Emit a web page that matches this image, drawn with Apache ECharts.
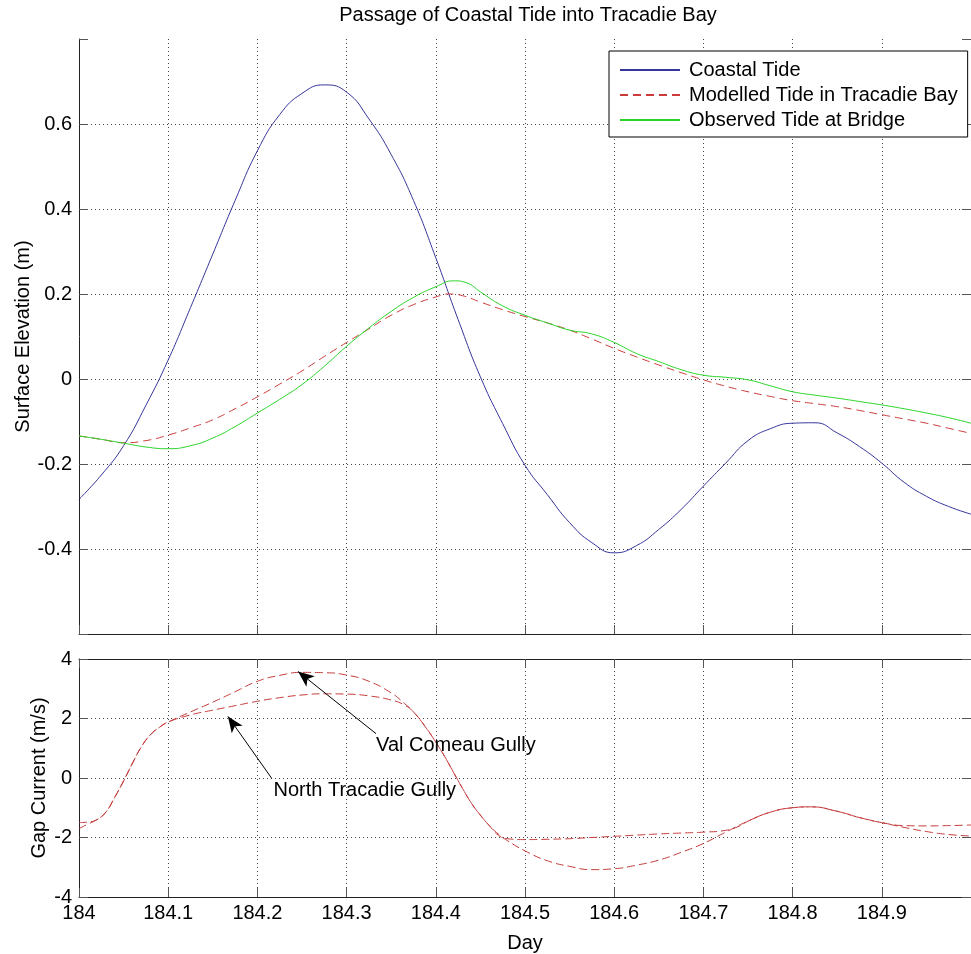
<!DOCTYPE html>
<html>
<head>
<meta charset="utf-8">
<script src="https://cdn.jsdelivr.net/npm/echarts@6/dist/echarts.min.js"></script>
<style>html,body{margin:0;padding:0;background:#fff}#c{width:971px;height:954px}</style>
</head>
<body>
<div id="c"></div>
<script>
// ---- data ----
const titleText = 'Passage of Coastal Tide into Tracadie Bay';
const seriesNames = ['Coastal Tide', 'Modelled Tide in Tracadie Bay', 'Observed Tide at Bridge'];
const gullyNames = ['Val Comeau Gully', 'North Tracadie Gully'];

const coastalDay = [184.000,184.025,184.050,184.075,184.100,184.125,184.150,184.175,184.200,184.225,184.250,184.275,184.300,184.325,184.350,184.375,184.400,184.425,184.450,184.475,184.500,184.525,184.550,184.575,184.600,184.625,184.650,184.675,184.700,184.725,184.750,184.775,184.800,184.825,184.850,184.875,184.900,184.925,184.950,184.975,185.000];
const coastalElev = [-0.283,-0.226,-0.157,-0.062,0.045,0.168,0.294,0.420,0.537,0.622,0.672,0.692,0.675,0.612,0.528,0.420,0.285,0.140,0.005,-0.105,-0.203,-0.272,-0.338,-0.385,-0.409,-0.392,-0.354,-0.307,-0.252,-0.198,-0.145,-0.117,-0.104,-0.103,-0.127,-0.159,-0.198,-0.243,-0.276,-0.300,-0.318];

const modelDay = [184.000,184.025,184.050,184.075,184.100,184.125,184.150,184.175,184.200,184.225,184.250,184.275,184.300,184.325,184.350,184.375,184.400,184.415,184.430,184.450,184.475,184.500,184.525,184.550,184.575,184.600,184.625,184.650,184.675,184.700,184.725,184.750,184.775,184.800,184.825,184.850,184.875,184.900,184.925,184.950,184.975,185.000];
const modelElev = [-0.134,-0.142,-0.150,-0.145,-0.132,-0.115,-0.096,-0.070,-0.042,-0.012,0.019,0.053,0.086,0.118,0.150,0.175,0.193,0.200,0.196,0.181,0.163,0.147,0.132,0.115,0.094,0.072,0.052,0.033,0.015,-0.002,-0.017,-0.030,-0.041,-0.051,-0.058,-0.065,-0.074,-0.084,-0.094,-0.104,-0.116,-0.128];

const obsDay = [184.000,184.025,184.050,184.075,184.100,184.125,184.150,184.175,184.200,184.225,184.250,184.275,184.300,184.325,184.350,184.375,184.400,184.420,184.435,184.450,184.475,184.500,184.525,184.550,184.575,184.600,184.625,184.650,184.675,184.700,184.725,184.750,184.775,184.800,184.825,184.850,184.875,184.900,184.925,184.950,184.975,185.000];
const obsElev = [-0.134,-0.142,-0.151,-0.160,-0.164,-0.157,-0.139,-0.112,-0.080,-0.048,-0.013,0.030,0.077,0.120,0.159,0.192,0.217,0.231,0.226,0.205,0.172,0.150,0.132,0.115,0.106,0.086,0.060,0.041,0.022,0.009,0.004,-0.002,-0.016,-0.030,-0.038,-0.045,-0.053,-0.061,-0.070,-0.080,-0.091,-0.104];

const vcDay = [184.000,184.010,184.020,184.030,184.040,184.050,184.060,184.070,184.080,184.090,184.100,184.125,184.150,184.175,184.200,184.225,184.250,184.275,184.300,184.325,184.350,184.365,184.375,184.390,184.400,184.410,184.420,184.430,184.440,184.450,184.460,184.470,184.480,184.500,184.525,184.550,184.575,184.600,184.625,184.650,184.675,184.700,184.725,184.750,184.775,184.800,184.820,184.850,184.875,184.900,184.925,184.950,184.975,185.000];
const vcCurrent = [-1.70,-1.55,-1.40,-1.15,-0.65,-0.10,0.50,1.05,1.45,1.70,1.88,2.22,2.55,2.90,3.25,3.45,3.55,3.54,3.46,3.25,2.86,2.50,2.22,1.65,1.20,0.72,0.18,-0.35,-0.85,-1.25,-1.60,-1.88,-2.10,-2.45,-2.78,-2.97,-3.08,-3.05,-2.93,-2.76,-2.50,-2.20,-1.82,-1.45,-1.15,-1.00,-0.97,-1.12,-1.33,-1.50,-1.66,-1.80,-1.90,-1.95];

const ntDay = [184.000,184.010,184.020,184.030,184.040,184.050,184.060,184.070,184.080,184.090,184.100,184.125,184.150,184.175,184.200,184.225,184.250,184.275,184.300,184.325,184.350,184.365,184.375,184.390,184.400,184.410,184.420,184.430,184.440,184.450,184.460,184.470,184.480,184.500,184.525,184.550,184.575,184.600,184.625,184.650,184.675,184.700,184.725,184.740,184.750,184.775,184.800,184.820,184.850,184.875,184.900,184.925,184.950,184.975,185.000];
const ntCurrent = [-1.50,-1.48,-1.40,-1.15,-0.65,-0.10,0.50,1.05,1.45,1.70,1.88,2.12,2.28,2.43,2.58,2.70,2.79,2.83,2.82,2.76,2.62,2.45,2.22,1.65,1.20,0.72,0.18,-0.35,-0.85,-1.25,-1.60,-1.92,-2.04,-2.07,-2.06,-2.04,-2.00,-1.96,-1.92,-1.88,-1.85,-1.82,-1.76,-1.62,-1.45,-1.15,-1.00,-0.97,-1.12,-1.33,-1.50,-1.60,-1.61,-1.60,-1.58];

const xTicks = [184, 184.1, 184.2, 184.3, 184.4, 184.5, 184.6, 184.7, 184.8, 184.9];
const elevTicks = [-0.4, -0.2, 0, 0.2, 0.4, 0.6];
const currentTicks = [-4, -2, 0, 2, 4];

// annotation anchor points (data coordinates)
const vcArrowFrom = [184.333, 1.49], vcArrowTo = [184.2456, 3.58], vcTextAt = [184.333, 1.10];
const ntArrowFrom = [184.216, -0.01], ntArrowTo = [184.167, 2.07], ntTextAt = [184.218, -0.41];

// ---- chart ----
const FONT = '"Liberation Sans", Arial, Helvetica, sans-serif';
const pair = (xs, ys) => xs.map((x, i) => [x, ys[i]]);
const gridLine = {show: true, lineStyle: {type: [1, 3], color: '#444', width: 1}};
const tickIn = {show: true, inside: true, length: 9, lineStyle: {color: '#555'}};
const axLine = {show: true, onZero: false, lineStyle: {color: '#222', width: 1}};
const lbl = {color: '#000', fontSize: 20, fontFamily: FONT};
const X0 = 184, X1 = 185;
const SMOOTH = 0.5;

const chart = echarts.init(document.getElementById('c'), null, {renderer: 'canvas'});
chart.setOption({
  animation: false,
  backgroundColor: '#fff',
  textStyle: {fontFamily: FONT},
  graphic: [{type: 'text', x: 528, y: 15, silent: true,
    style: {text: titleText, fontSize: 20, fontFamily: FONT, fill: '#000', align: 'center', verticalAlign: 'middle'}}],
  grid: [
    {left: 79, top: 39, width: 898, height: 595},
    {left: 79, top: 659, width: 898, height: 238}
  ],
  legend: {
    data: seriesNames, orient: 'vertical', left: 609, top: 51,
    itemWidth: 60, itemHeight: 14, itemGap: 5, padding: [9, 10, 7, 10],
    backgroundColor: '#fff', borderColor: '#000', borderWidth: 1, borderRadius: 0,
    itemStyle: {opacity: 0, color: 'rgba(0,0,0,0)', borderWidth: 0},
    textStyle: {fontSize: 20, color: '#000', fontFamily: FONT, padding: [0, 0, 0, 4]},
    selectedMode: false
  },
  xAxis: [
    {type: 'value', gridIndex: 0, min: X0, max: X1, interval: 0.1, axisLabel: {show: false}, axisTick: tickIn, axisLine: axLine, splitLine: gridLine},
    {type: 'value', gridIndex: 1, min: X0, max: X1, interval: 0.1, axisTick: tickIn, axisLine: axLine, splitLine: gridLine,
      axisLabel: Object.assign({margin: 6, showMaxLabel: false, formatter: v => (xTicks.some(t => Math.abs(t - v) < 1e-6) ? String(+v.toFixed(1)) : '')}, lbl),
      name: 'Day', nameLocation: 'middle', nameGap: 36, nameTextStyle: lbl},
    {type: 'value', gridIndex: 1, position: 'top', min: X0, max: X1, interval: 0.1, axisLabel: {show: false}, axisTick: tickIn, axisLine: axLine, splitLine: {show: false}}
  ],
  yAxis: [
    {type: 'value', gridIndex: 0, min: -0.6, max: 0.8, interval: 0.2, axisTick: tickIn, axisLine: axLine,
      splitLine: Object.assign({showMinLine: false, showMaxLine: false}, gridLine),
      axisLabel: Object.assign({margin: 7, formatter: v => (elevTicks.some(t => Math.abs(t - v) < 1e-6) ? String(+v.toFixed(1)) : '')}, lbl),
      name: 'Surface Elevation (m)', nameLocation: 'middle', nameGap: 46, nameMoveOverlap: false, nameTextStyle: lbl},
    {type: 'value', gridIndex: 1, min: -4, max: 4, interval: 2, axisTick: tickIn, axisLine: axLine,
      splitLine: Object.assign({showMinLine: false, showMaxLine: false}, gridLine),
      axisLabel: Object.assign({margin: 7, formatter: v => (currentTicks.includes(v) ? String(v) : '')}, lbl),
      name: 'Gap Current (m/s)', nameLocation: 'middle', nameGap: 30, nameMoveOverlap: false, nameTextStyle: lbl},
    {type: 'value', gridIndex: 0, position: 'right', min: -0.6, max: 0.8, interval: 0.2, axisLabel: {show: false}, axisTick: tickIn, axisLine: axLine, splitLine: {show: false}},
    {type: 'value', gridIndex: 1, position: 'right', min: -4, max: 4, interval: 2, axisLabel: {show: false}, axisTick: tickIn, axisLine: axLine, splitLine: {show: false}}
  ],
  series: [
    {name: seriesNames[0], type: 'line', xAxisIndex: 0, yAxisIndex: 0, data: pair(coastalDay, coastalElev), symbol: 'none', smooth: SMOOTH,
      lineStyle: {color: '#36369a', width: 1}, itemStyle: {color: '#36369a'}},
    {name: seriesNames[1], type: 'line', xAxisIndex: 0, yAxisIndex: 0, data: pair(modelDay, modelElev), symbol: 'none', smooth: SMOOTH,
      lineStyle: {color: '#cc3a3a', width: 1, type: [8, 5]}, itemStyle: {color: '#cc3a3a'}},
    {name: seriesNames[2], type: 'line', xAxisIndex: 0, yAxisIndex: 0, data: pair(obsDay, obsElev), symbol: 'none', smooth: SMOOTH,
      lineStyle: {color: '#2bd42b', width: 1}, itemStyle: {color: '#2bd42b'}},
    {name: gullyNames[0], type: 'line', xAxisIndex: 1, yAxisIndex: 1, data: pair(vcDay, vcCurrent), symbol: 'none', smooth: SMOOTH,
      lineStyle: {color: '#c43a3a', width: 1, type: [8, 4]}, itemStyle: {color: '#c43a3a'},
      markLine: {silent: true, animation: false, symbol: ['none', 'arrow'], symbolSize: [10, 16], label: {show: false},
        lineStyle: {color: '#000', width: 1, type: 'solid'}, itemStyle: {color: '#000'},
        data: [[{coord: vcArrowFrom}, {coord: vcArrowTo}], [{coord: ntArrowFrom}, {coord: ntArrowTo}]]},
      markPoint: {silent: true, animation: false, symbol: 'circle', symbolSize: 0,
        label: {show: true, position: 'right', distance: 0, color: '#000', fontSize: 20, fontFamily: FONT},
        data: [
          {coord: vcTextAt, label: {formatter: gullyNames[0]}},
          {coord: ntTextAt, label: {formatter: gullyNames[1]}}
        ]}},
    {name: gullyNames[1], type: 'line', xAxisIndex: 1, yAxisIndex: 1, data: pair(ntDay, ntCurrent), symbol: 'none', smooth: SMOOTH,
      lineStyle: {color: '#c43a3a', width: 1, type: [8, 4]}, itemStyle: {color: '#c43a3a'}}
  ]
});
</script>
</body>
</html>
